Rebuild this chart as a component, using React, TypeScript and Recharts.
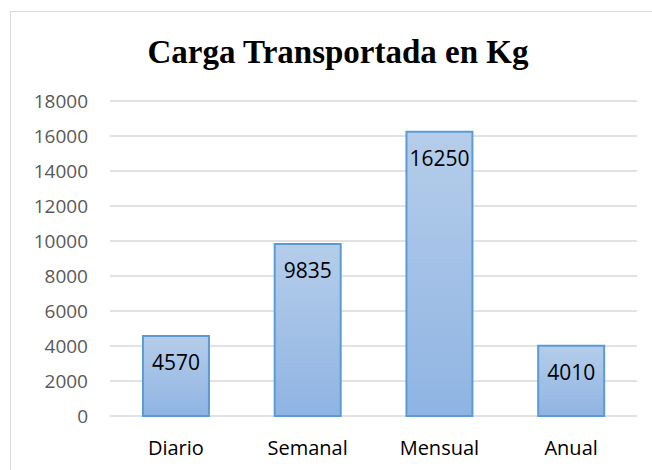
import { BarChart, Bar, XAxis, YAxis, CartesianGrid, LabelList } from 'recharts';

const categories = ['Diario', 'Semanal', 'Mensual', 'Anual'];
const carga = [4570, 9835, 16250, 4010];
const yTicks = [0, 2000, 4000, 6000, 8000, 10000, 12000, 14000, 16000, 18000];

const data = categories.map((name, i) => ({ name, carga: carga[i] }));

const font = '"Open Sans", sans-serif';

export default function App() {
  return (
    <div style={{ position: 'fixed', left: 0, top: 0, width: 652, height: 470, overflow: 'hidden', background: '#fff' }}>
      <div style={{ position: 'absolute', left: 10, top: 11, width: 700, height: 500, borderTop: '1px solid #d9d9d9', borderLeft: '1px solid #d9d9d9' }} />
      <div style={{ position: 'absolute', left: 0, top: 34, width: 676, textAlign: 'center', fontFamily: '"Liberation Serif", serif', fontWeight: 'bold', fontSize: 33, color: '#000' }}>
        Carga Transportada en Kg
      </div>
      <BarChart width={652} height={470} data={data} margin={{ top: 101, right: 15, bottom: 24, left: 0 }} barCategoryGap="25%" style={{ position: 'absolute', left: 0, top: 0 }}>
        <defs>
          <linearGradient id="barFill" x1="0" y1="0" x2="0" y2="1">
            <stop offset="0%" stopColor="#b5cdea" />
            <stop offset="100%" stopColor="#8fb4e3" />
          </linearGradient>
        </defs>
        <CartesianGrid vertical={false} stroke="#d9d9d9" strokeWidth={1.5} />
        <XAxis dataKey="name" height={30} axisLine={false} tickLine={false} tickSize={0} tickMargin={25} tick={{ fontSize: 20, fill: '#000', fontFamily: font }} />
        <YAxis width={110} domain={[0, 18000]} ticks={yTicks} axisLine={false} tickLine={false} tickSize={0} tickMargin={22} tick={{ fontSize: 19, fill: '#595959', fontFamily: font }} />
        <Bar dataKey="carga" fill="url(#barFill)" stroke="#5b9bd5" strokeWidth={2} isAnimationActive={false}>
          <LabelList dataKey="carga" position="insideTop" offset={19} style={{ fontSize: 21, fill: '#000', fontFamily: font }} />
        </Bar>
      </BarChart>
    </div>
  );
}
